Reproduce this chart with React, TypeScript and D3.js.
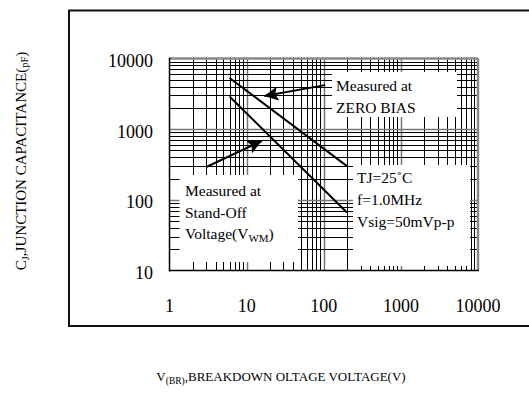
import React, { useEffect, useRef } from "react";
import * as d3 from "d3";

// axis ticks
const xTicks = [1, 10, 100, 1000, 10000];
const yTicks = [10, 100, 1000, 10000];

// curves: breakdown voltage vs capacitance
const zeroBiasV = [6, 200];
const zeroBiasC = [5300, 300];
const standOffV = [6, 200];
const standOffC = [2900, 66];

// arrows [from, to] in data units
const zeroArrow = [[104, 4200], [16.9, 2940]];
const standArrow = [[3.05, 294], [15.7, 680]];

const zeroLabel = ["Measured at", "ZERO BIAS"];
const condLabel = ["TJ=25˚C", "f=1.0MHz", "Vsig=50mVp-p"];

const FONT = "'Liberation Serif', 'Times New Roman', serif";

function App() {
    const ref = useRef<SVGSVGElement>(null);

    useEffect(() => {
        const svg = d3.select(ref.current);
        svg.selectAll("*").remove();

        const left = 169.5, right = 478, top = 58.5, bottom = 270.5;
        const x = d3.scaleLog().domain([1, 10000]).range([left, right]);
        const y = d3.scaleLog().domain([10, 10000]).range([bottom, top]);

        // outer frame
        svg.append("rect")
            .attr("x", 69).attr("y", 10.5).attr("width", 470).attr("height", 315.5)
            .attr("fill", "none").attr("stroke", "#111").attr("stroke-width", 2);

        const g = svg.append("g");

        // log grid (minor + decades)
        const xGrid: number[] = [];
        for (let d = 1; d < 10000; d *= 10) for (let k = 1; k < 10; k++) xGrid.push(d * k);
        const yGrid: number[] = [];
        for (let d = 10; d < 10000; d *= 10) for (let k = 1; k < 10; k++) yGrid.push(d * k);

        g.selectAll(".vgrid").data(xGrid.filter(v => v > 1)).join("line").attr("class", "vgrid")
            .attr("x1", d => Math.round(x(d)) + 0.5).attr("x2", d => Math.round(x(d)) + 0.5)
            .attr("y1", top).attr("y2", bottom)
            .attr("stroke", d => xTicks.includes(d) ? "#777" : "#000")
            .attr("stroke-width", d => xTicks.includes(d) ? 1.5 : 1);

        g.selectAll(".hgrid").data(yGrid.filter(v => v > 10)).join("line").attr("class", "hgrid")
            .attr("y1", d => Math.round(y(d)) + 0.5).attr("y2", d => Math.round(y(d)) + 0.5)
            .attr("x1", left).attr("x2", right)
            .attr("stroke", d => yTicks.includes(d) ? "#777" : "#000")
            .attr("stroke-width", d => yTicks.includes(d) ? 1.5 : 1);

        // white label boxes covering the grid
        const boxes = [
            { x0: 332, y0: 72, x1: 457, y1: 117 },
            { x0: 353, y0: 165, x1: 470, y1: 266 },
            { x0: 179.5, y0: 175, x1: 298, y1: 262 }
        ];
        g.selectAll(".box").data(boxes).join("rect").attr("class", "box")
            .attr("x", d => d.x0).attr("y", d => d.y0)
            .attr("width", d => d.x1 - d.x0).attr("height", d => d.y1 - d.y0)
            .attr("fill", "#fff");

        // plot border
        g.append("line").attr("x1", left).attr("x2", right).attr("y1", top).attr("y2", top)
            .attr("stroke", "#888").attr("stroke-width", 2.5);
        g.append("line").attr("x1", right).attr("x2", right).attr("y1", top).attr("y2", bottom)
            .attr("stroke", "#888").attr("stroke-width", 2.5);
        g.append("line").attr("x1", left).attr("x2", left).attr("y1", top - 1).attr("y2", bottom + 1)
            .attr("stroke", "#000").attr("stroke-width", 1.5);
        g.append("line").attr("x1", left).attr("x2", right + 1).attr("y1", bottom).attr("y2", bottom)
            .attr("stroke", "#000").attr("stroke-width", 1.5);

        // curves
        const line = d3.line<[number, number]>().x(d => x(d[0])).y(d => y(d[1]));
        const curves = [
            d3.zip(zeroBiasV, zeroBiasC) as [number, number][],
            d3.zip(standOffV, standOffC) as [number, number][]
        ];
        g.selectAll(".curve").data(curves).join("path").attr("class", "curve")
            .attr("d", d => line(d)).attr("fill", "none")
            .attr("stroke", "#000").attr("stroke-width", 2);

        // arrows
        svg.append("defs").append("marker")
            .attr("id", "head").attr("viewBox", "0 0 10 10")
            .attr("refX", 10).attr("refY", 5)
            .attr("markerWidth", 14).attr("markerHeight", 14)
            .attr("markerUnits", "userSpaceOnUse").attr("orient", "auto")
            .append("path").attr("d", "M0,0 L10,5 L0,10 L2,5 Z").attr("fill", "#000");

        g.selectAll(".arrow").data([zeroArrow, standArrow]).join("line").attr("class", "arrow")
            .attr("x1", d => x(d[0][0])).attr("y1", d => y(d[0][1]))
            .attr("x2", d => x(d[1][0])).attr("y2", d => y(d[1][1]))
            .attr("stroke", "#000").attr("stroke-width", 2)
            .attr("marker-end", "url(#head)");

        // tick labels
        g.selectAll(".xt").data(xTicks).join("text").attr("class", "xt")
            .attr("x", d => x(d)).attr("y", 311.5)
            .attr("text-anchor", "middle")
            .style("font-family", FONT).style("font-size", "18px")
            .text(d => d);
        g.selectAll(".yt").data(yTicks).join("text").attr("class", "yt")
            .attr("x", 153).attr("y", d => y(d) + 8.5)
            .attr("text-anchor", "end")
            .style("font-family", FONT).style("font-size", "18px")
            .text(d => d);

        // annotations
        const ann = (lines: string[], x0: number, y0: number) => {
            g.append("g").selectAll("text").data(lines).join("text")
                .attr("x", x0).attr("y", (d, i) => y0 + i * 21.8)
                .style("font-family", FONT).style("font-size", "15.5px")
                .text(d => d);
        };
        ann(zeroLabel, 336, 91);
        ann(condLabel, 357, 183);

        const st = g.append("g").style("font-family", FONT).style("font-size", "15.5px");
        st.append("text").attr("x", 185).attr("y", 196).text("Measured at");
        st.append("text").attr("x", 185).attr("y", 217.5).text("Stand-Off");
        const vt = st.append("text").attr("x", 185).attr("y", 239.3);
        vt.append("tspan").text("Voltage(V");
        vt.append("tspan").attr("dy", 3).style("font-size", "11px").text("WM");
        vt.append("tspan").attr("dy", -3).text(")");

        // axis titles
        const xl = svg.append("text").attr("x", 281).attr("y", 381)
            .attr("text-anchor", "middle")
            .style("font-family", FONT).style("font-size", "13px");
        xl.append("tspan").text("V");
        xl.append("tspan").attr("dy", 3).style("font-size", "9.5px").text("(BR)");
        xl.append("tspan").attr("dy", -3).text(",BREAKDOWN OLTAGE VOLTAGE(V)");

        const yl = svg.append("text")
            .attr("transform", "translate(26,161) rotate(-90)")
            .attr("text-anchor", "middle")
            .style("font-family", FONT).style("font-size", "15px");
        yl.append("tspan").text("C");
        yl.append("tspan").attr("dy", 3).style("font-size", "10.5px").text("J");
        yl.append("tspan").attr("dy", -3).text(",JUNCTION CAPACITANCE(");
        yl.append("tspan").attr("dy", 2).style("font-size", "10.5px").text("pF");
        yl.append("tspan").attr("dy", -2).text(")");
    }, []);

    return (
        <div style={{ position: "absolute", left: 0, top: 0 }}>
            <svg ref={ref} width={529} height={416} style={{ display: "block", background: "#fff" }}></svg>
        </div>
    );
}

export default App;
